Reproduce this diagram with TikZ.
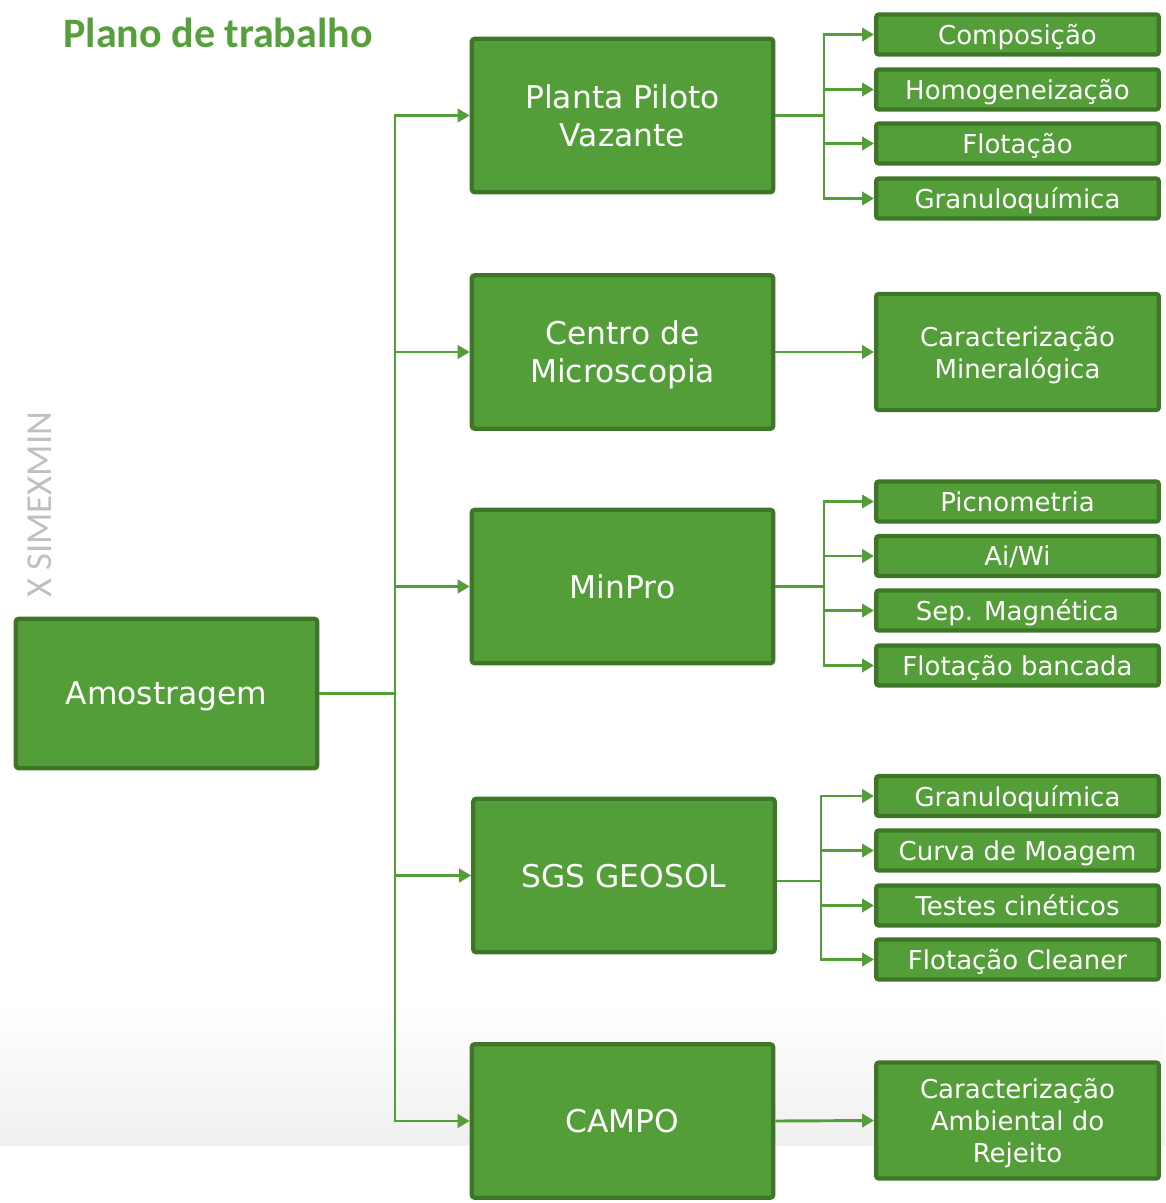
\documentclass[tikz,border=0pt]{standalone}
\usepackage{fontspec}
\usepackage{xcolor}
\usepackage{tikz}
\setmainfont{DejaVu Sans}
\newfontfamily\titlefont{Carlito}
\definecolor{leafgreen}{RGB}{84, 158, 57}
\definecolor{darkleaf}{RGB}{62, 118, 40}
\definecolor{titlegreen}{RGB}{86, 160, 60}
\definecolor{markgray}{RGB}{192, 192, 192}
\usetikzlibrary{arrows.meta,positioning,calc}

\begin{document}
\begin{tikzpicture}[
    x=0.75pt, y=-0.75pt,
    stage/.style={
        rectangle,
        rounded corners=2pt,
        minimum width=226pt,
        minimum height=115pt,
        align=center,
        font=\fontsize{23.5}{28.5}\selectfont,
        text=white,
        text depth=0pt,
        fill=leafgreen,
        draw=darkleaf,
        line width=3.2pt
    },
    task/.style={
        stage,
        minimum width=212pt,
        minimum height=30pt,
        font=\fontsize{19.5}{24}\selectfont
    },
    link/.style={line width=2.2pt, leafgreen},
    arrow/.style={-{Triangle[length=9pt,width=10pt]}, line width=2.2pt, leafgreen}
]
    \useasboundingbox (0,0) rectangle (1165,1203);
    % faint band behind the bottom row
    \shade[top color=white, bottom color=black!6] (0,1005) rectangle (1165,1145);

    % Title and side mark
    \node[font=\titlefont\bfseries\fontsize{31.5}{36}\selectfont, text=titlegreen] (title) at (218,33) {Plano de trabalho};
    \node[font=\titlefont\fontsize{27.5}{32}\selectfont, text=markgray, rotate=90] (mark) at (40,505) {X SIMEXMIN};

    % Source
    \node[stage, minimum height=112pt] (amostra) at (166.5,693.5) {Amostragem};

    % Laboratories
    \node[stage] (planta) at (622.5,115.5) {Planta Piloto\\Vazante};
    \node[stage] (centro) at (622.5,352) {Centro de\\Microscopia};
    \node[stage] (minpro) at (622.5,586.5) {MinPro};
    \node[stage] (sgs) at (624,875.5) {SGS GEOSOL};
    \node[stage] (campo) at (622.5,1121) {CAMPO};

    % Tasks
    \node[task] (comp) at (1017.5,34.5) {Composição};
    \node[task] (homog) at (1017.5,89.5) {Homogeneização};
    \node[task] (flot) at (1017.5,143.5) {Flotação};
    \node[task] (granA) at (1017.5,198.5) {Granuloquímica};

    \node[task, minimum height=87pt] (carMin) at (1017.5,352) {Caracterização\\Mineralógica};

    \node[task] (picno) at (1017.5,501.5) {Picnometria};
    \node[task] (aiwi) at (1017.5,556) {Ai/Wi};
    \node[task] (sepmag) at (1017.5,610.5) {Sep. Magnética};
    \node[task] (flotBan) at (1017.5,665.5) {Flotação bancada};

    \node[task] (granB) at (1017.5,796) {Granuloquímica};
    \node[task] (curva) at (1017.5,850.5) {Curva de Moagem};
    \node[task] (testes) at (1017.5,905.5) {Testes cinéticos};
    \node[task] (flotCl) at (1017.5,959.5) {Flotação Cleaner};

    \node[task, minimum height=87pt] (carAmb) at (1017.5,1120.5) {Caracterização\\Ambiental do\\Rejeito};

    % Buses
    \coordinate (busL) at (395,693.5);
    \coordinate (busP) at (824,115.5);
    \coordinate (busM) at (824,586.5);
    \coordinate (busS) at (821,881);

    % Arrows from Amostragem
    \draw[link] (amostra.east) -- (busL);
    \foreach \lab in {planta,centro,minpro,sgs,campo}
        \draw[arrow] (busL) |- (\lab.west);

    % Arrows to tasks
    \draw[link] (planta.east) -- (busP);
    \foreach \t in {comp,homog,flot,granA}
        \draw[arrow] (busP) |- (\t.west);

    \draw[arrow] (centro.east) -- (carMin.west);

    \draw[link] (minpro.east) -- (busM);
    \foreach \t in {picno,aiwi,sepmag,flotBan}
        \draw[arrow] (busM) |- (\t.west);

    \draw[link] (sgs.east |- busS) -- (busS);
    \foreach \t in {granB,curva,testes,flotCl}
        \draw[arrow] (busS) |- (\t.west);

    \draw[arrow] (campo.east) -- (carAmb.west);
\end{tikzpicture}
\end{document}
